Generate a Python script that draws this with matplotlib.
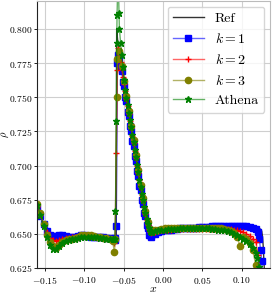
import numpy as np
import matplotlib
matplotlib.use("Agg")
import matplotlib.pyplot as plt

plt.rcParams['font.family'] = 'serif'
plt.rcParams['font.serif'] = ['cmr10']
plt.rcParams['mathtext.fontset'] = 'cm'
plt.rcParams['axes.formatter.use_mathtext'] = True

# shared cell centres
x_left = [-0.160, -0.156, -0.152, -0.148, -0.144, -0.140, -0.136, -0.132, -0.128,
          -0.124, -0.120, -0.116, -0.112, -0.108, -0.104, -0.100, -0.096, -0.092,
          -0.088, -0.084, -0.080, -0.076, -0.072, -0.068, -0.064]
x_ramp = [-0.0555, -0.054, -0.0525, -0.051, -0.0495, -0.048, -0.0465, -0.045,
          -0.0435, -0.042, -0.0405, -0.039, -0.0375, -0.036, -0.0345, -0.033,
          -0.0315, -0.030, -0.0285, -0.027, -0.0255, -0.024, -0.0225, -0.021,
          -0.0195, -0.018, -0.0165, -0.015, -0.0135]
x_ramp_k3 = [-0.0555, -0.0525, -0.0495, -0.0465, -0.0435, -0.0405, -0.0375, -0.0345,
             -0.0315, -0.0285, -0.0255, -0.0225, -0.0195, -0.0165, -0.0135]
x_right = [-0.010, -0.006, -0.002, 0.002, 0.006, 0.010, 0.014, 0.018, 0.022, 0.026,
           0.030, 0.034, 0.038, 0.042, 0.046, 0.050, 0.054, 0.058, 0.062, 0.066,
           0.070, 0.074, 0.078, 0.082, 0.086, 0.090, 0.094, 0.098, 0.102, 0.106,
           0.110, 0.114, 0.118]

# reference solution
ref_x = [-0.1605, -0.157, -0.153, -0.149, -0.145, -0.141, -0.137, -0.120, -0.100,
         -0.080, -0.0595, -0.0590, -0.0575, -0.050, -0.040, -0.030, -0.024, -0.019,
         -0.016, -0.013, 0.000, 0.050, 0.100, 0.124, 0.1255, 0.1265, 0.1275, 0.128,
         0.129, 0.1295]
ref_y = [0.673, 0.666, 0.659, 0.6535, 0.650, 0.6485, 0.648, 0.648, 0.6485, 0.648,
         0.6475, 0.800, 0.790, 0.763, 0.727, 0.6905, 0.6695, 0.6555, 0.652, 0.6525,
         0.6535, 0.654, 0.654, 0.6535, 0.652, 0.648, 0.640, 0.633, 0.622, 0.615]

# k = 1
k1_left = [0.669, 0.663, 0.657, 0.652, 0.649, 0.6485, 0.6485, 0.649, 0.649, 0.6485,
           0.648, 0.648, 0.648, 0.6485, 0.649, 0.649, 0.6485, 0.648, 0.648, 0.6475,
           0.6475, 0.6475, 0.647, 0.647, 0.6465]
k1_shock_x = [-0.0615, -0.0605, -0.0595, -0.058, -0.057]
k1_shock_y = [0.6455, 0.647, 0.656, 0.775, 0.781]
k1_ramp = [0.779, 0.772, 0.769, 0.761, 0.758, 0.7505, 0.747, 0.7395, 0.736, 0.7287,
           0.7253, 0.718, 0.7145, 0.707, 0.7036, 0.696, 0.6927, 0.6853, 0.682, 0.6748,
           0.672, 0.6653, 0.6628, 0.6565, 0.6545, 0.649, 0.6495, 0.648, 0.650]
k1_right = [0.650, 0.651, 0.652, 0.6525, 0.653, 0.653, 0.6535, 0.6535, 0.654, 0.654,
            0.654, 0.6545, 0.6545, 0.6545, 0.655, 0.655, 0.655, 0.655, 0.6555, 0.6555,
            0.6555, 0.6555, 0.6555, 0.656, 0.656, 0.656, 0.656, 0.656, 0.6555, 0.6555,
            0.655, 0.6545, 0.6535]
k1_tail_x = [0.1205, 0.1225, 0.124, 0.1255, 0.127]
k1_tail_y = [0.651, 0.646, 0.638, 0.630, 0.618]

# k = 2
k2_left = [0.670, 0.664, 0.657, 0.651, 0.647, 0.6455, 0.645, 0.6455, 0.6465, 0.647,
           0.647, 0.6475, 0.6475, 0.648, 0.6485, 0.649, 0.649, 0.6485, 0.648, 0.648,
           0.6475, 0.647, 0.647, 0.6465, 0.646]
k2_shock_x = [-0.0625, -0.061, -0.0595, -0.058, -0.057]
k2_shock_y = [0.643, 0.6465, 0.709, 0.770, 0.786]
k2_ramp = [0.782, 0.776, 0.771, 0.765, 0.760, 0.7545, 0.749, 0.7435, 0.738, 0.7327,
           0.7273, 0.722, 0.7165, 0.711, 0.7056, 0.700, 0.6947, 0.6893, 0.684, 0.6788,
           0.674, 0.6693, 0.6648, 0.6605, 0.6565, 0.6535, 0.6515, 0.6505, 0.651]
k2_right = [0.6515, 0.652, 0.6525, 0.653, 0.653, 0.653, 0.6535, 0.6535, 0.6535, 0.6535,
            0.6535, 0.6535, 0.6535, 0.6535, 0.6535, 0.6535, 0.6535, 0.6535, 0.6535,
            0.6535, 0.6535, 0.6535, 0.6535, 0.6535, 0.6535, 0.653, 0.6525, 0.652, 0.651,
            0.650, 0.6485, 0.6465, 0.644]
k2_tail_x = [0.121, 0.1235]
k2_tail_y = [0.6345, 0.615]

# k = 3
k3_left = [0.672, 0.665, 0.657, 0.649, 0.644, 0.641, 0.640, 0.6415, 0.644, 0.6455,
           0.646, 0.6465, 0.647, 0.648, 0.649, 0.6495, 0.6495, 0.649, 0.6485, 0.648,
           0.6475, 0.647, 0.647, 0.6465, 0.645]
k3_shock_x = [-0.062, -0.0605, -0.059, -0.058]
k3_shock_y = [0.6365, 0.6465, 0.750, 0.778]
k3_ramp = [0.784, 0.773, 0.762, 0.751, 0.740, 0.7293, 0.7185, 0.7076, 0.6967, 0.686,
           0.676, 0.6668, 0.6585, 0.6535, 0.6525]
k3_right = [0.6525, 0.653, 0.6535, 0.654, 0.654, 0.654, 0.654, 0.654, 0.654, 0.6545,
            0.6545, 0.6545, 0.6545, 0.6545, 0.6545, 0.6545, 0.6545, 0.6545, 0.6545,
            0.654, 0.654, 0.654, 0.6535, 0.653, 0.652, 0.6505, 0.648, 0.641, 0.648,
            0.646, 0.643, 0.638, 0.627]
k3_tail_x = [0.120]
k3_tail_y = [0.615]

# Athena
ath_left = [0.671, 0.664, 0.656, 0.648, 0.642, 0.639, 0.639, 0.641, 0.6435, 0.645,
            0.6455, 0.646, 0.6465, 0.647, 0.6475, 0.648, 0.648, 0.648, 0.6475, 0.6475,
            0.647, 0.647, 0.6465, 0.6465, 0.6465]
ath_shock_x = [-0.0615, -0.0605, -0.0595, -0.059, -0.0585, -0.058, -0.057, -0.056]
ath_shock_y = [0.6465, 0.6665, 0.733, 0.790, 0.810, 0.823, 0.835, 0.812]
ath_ramp = [0.800, 0.790, 0.781, 0.772, 0.763, 0.7555, 0.7495, 0.744, 0.7385, 0.7335,
            0.728, 0.7225, 0.717, 0.7115, 0.706, 0.7005, 0.695, 0.6898, 0.6845, 0.6795,
            0.675, 0.670, 0.6655, 0.661, 0.657, 0.654, 0.652, 0.651, 0.6515]
ath_right = [0.652, 0.6525, 0.653, 0.653, 0.6535, 0.6535, 0.6535, 0.6535, 0.654, 0.654,
             0.654, 0.654, 0.654, 0.654, 0.654, 0.654, 0.654, 0.654, 0.6535, 0.6535,
             0.653, 0.653, 0.6525, 0.652, 0.651, 0.650, 0.649, 0.6475, 0.646, 0.6445,
             0.6425, 0.640, 0.636]
ath_tail_x = [0.120, 0.122, 0.1235]
ath_tail_y = [0.632, 0.626, 0.615]

xticks = [-0.15, -0.10, -0.05, 0.00, 0.05, 0.10]
yticks = [0.625, 0.650, 0.675, 0.700, 0.725, 0.750, 0.775, 0.800]

series = [
    ('$k=1$', x_left + k1_shock_x + x_ramp + x_right + k1_tail_x,
     k1_left + k1_shock_y + k1_ramp + k1_right + k1_tail_y, (0, 0, 1), 's', 4),
    ('$k=2$', x_left + k2_shock_x + x_ramp + x_right + k2_tail_x,
     k2_left + k2_shock_y + k2_ramp + k2_right + k2_tail_y, (1, 0, 0), '+', 5),
    ('$k=3$', x_left + k3_shock_x + x_ramp_k3 + x_right + k3_tail_x,
     k3_left + k3_shock_y + k3_ramp + k3_right + k3_tail_y, (0.5, 0.5, 0), 'o', 4.5),
    ('Athena', x_left + ath_shock_x + x_ramp + x_right + ath_tail_x,
     ath_left + ath_shock_y + ath_ramp + ath_right + ath_tail_y, (0, 0.5, 0), '*', 5),
]

fig = plt.figure(figsize=(2.74, 2.94), dpi=100)
ax = fig.add_axes([37/274, 26/294, 233/274, 267/294])

ax.plot(ref_x, ref_y, color='k', alpha=0.8, lw=1.0, label='Ref')
for label, xs, ys, c, m, ms in series:
    ax.plot(xs, ys, color=c + (0.6,), lw=1.0, marker=m, markersize=ms,
            markerfacecolor=c, markeredgecolor=c, markeredgewidth=1.0, label=label)

ax.set_xlim(-0.1603, 0.136)
ax.set_ylim(0.625, 0.8205)
ax.set_xticks(xticks)
ax.set_yticks(yticks)
ax.xaxis.set_major_formatter(matplotlib.ticker.FuncFormatter(lambda v, p: '$%.2f$' % v))
ax.yaxis.set_major_formatter(matplotlib.ticker.FuncFormatter(lambda v, p: '$%.3f$' % v))
ax.tick_params(labelsize=6.9, length=2.5, width=0.6)
ax.tick_params(axis='y', pad=0.8)
ax.tick_params(axis='x', pad=2.5)
ax.grid(True, color='#cfcfcf', lw=0.8)
ax.set_axisbelow(True)
for s in ['left', 'bottom']:
    ax.spines[s].set_color('#222222')
    ax.spines[s].set_linewidth(0.8)
for s in ['top', 'right']:
    ax.spines[s].set_color('#bbbbbb')
    ax.spines[s].set_linewidth(0.8)

ax.set_xlabel('$x$', fontsize=8.5)
ax.set_ylabel(r'$\rho$', fontsize=7.5)
ax.xaxis.set_label_coords(0.5, -0.062)
ax.yaxis.set_label_coords(-0.1137, 0.5)
ax.legend(loc='upper right', fontsize=10, framealpha=0.8, handlelength=2.2,
          borderaxespad=0.4)

fig.savefig('out.png', dpi=100)
